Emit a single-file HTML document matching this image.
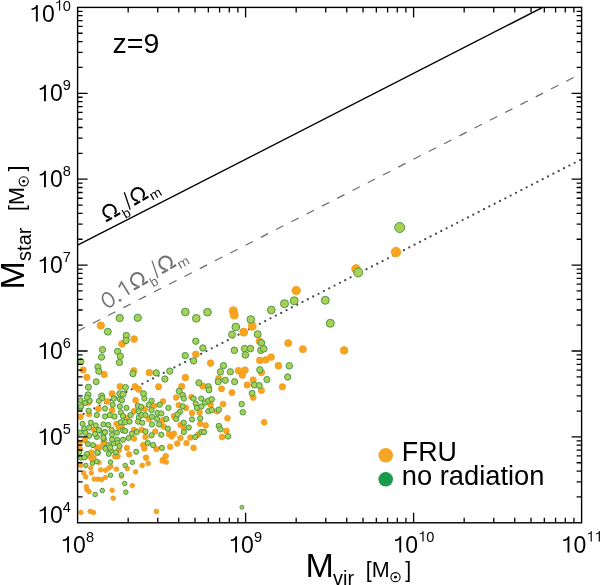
<!DOCTYPE html>
<html><head><meta charset="utf-8"><style>
html,body{margin:0;padding:0;background:#fff;width:600px;height:585px;overflow:hidden}
svg{position:absolute;left:0;top:0;will-change:transform}
text{font-family:"Liberation Sans",sans-serif;fill:#000}
.sr{font-family:"Liberation Serif",serif}
</style></head><body>
<svg width="600" height="585" viewBox="0 0 600 585">
<path d="M77.60 245.17L542.62 7.40" stroke="#000" stroke-width="1.4" fill="none"/>
<path d="M77.60 331.07L581.60 73.37" stroke="#6a6a6a" stroke-width="1.2" fill="none" stroke-dasharray="8.2 8.95"/>
<path d="M77.60 416.97L581.60 159.27" stroke="#4a4a4a" stroke-width="2.3" fill="none" stroke-dasharray="0 5.994" stroke-dashoffset="-0.856" stroke-linecap="round"/>
<defs><clipPath id="pc"><rect x="77.6" y="7.4" width="504.0" height="515.4"/></clipPath></defs><g clip-path="url(#pc)"><g fill="#f8a51c" stroke="#ec9a2a" stroke-width="0.7"><circle cx="396.0" cy="252.1" r="4.85"/><circle cx="356.1" cy="269.0" r="4.45"/><circle cx="296.2" cy="290.5" r="4.30"/><circle cx="233.3" cy="310.8" r="4.05"/><circle cx="234.2" cy="315.0" r="4.05"/><circle cx="252.2" cy="326.3" r="4.05"/><circle cx="243.7" cy="332.0" r="3.95"/><circle cx="100.8" cy="325.5" r="3.70"/><circle cx="122.0" cy="343.9" r="3.45"/><circle cx="134.1" cy="339.1" r="3.45"/><circle cx="83.1" cy="370.0" r="3.20"/><circle cx="104.2" cy="374.4" r="3.20"/><circle cx="86.9" cy="377.3" r="3.20"/><circle cx="133.8" cy="370.7" r="3.20"/><circle cx="120.1" cy="386.6" r="3.20"/><circle cx="135.1" cy="386.6" r="3.20"/><circle cx="138.6" cy="389.3" r="3.20"/><circle cx="112.1" cy="393.7" r="3.20"/><circle cx="195.8" cy="354.3" r="3.40"/><circle cx="149.3" cy="372.6" r="3.35"/><circle cx="185.4" cy="377.6" r="3.35"/><circle cx="158.6" cy="386.8" r="3.20"/><circle cx="202.9" cy="386.1" r="3.20"/><circle cx="181.6" cy="386.4" r="3.20"/><circle cx="243.7" cy="332.5" r="3.70"/><circle cx="259.5" cy="341.3" r="3.50"/><circle cx="210.6" cy="363.1" r="3.35"/><circle cx="259.8" cy="360.4" r="3.35"/><circle cx="265.8" cy="359.8" r="3.35"/><circle cx="238.5" cy="370.7" r="3.35"/><circle cx="245.0" cy="370.2" r="3.35"/><circle cx="242.3" cy="375.1" r="3.35"/><circle cx="261.4" cy="372.4" r="3.35"/><circle cx="218.8" cy="378.4" r="3.20"/><circle cx="253.2" cy="380.0" r="3.20"/><circle cx="247.2" cy="385.0" r="3.20"/><circle cx="261.4" cy="390.4" r="3.20"/><circle cx="221.5" cy="388.8" r="3.10"/><circle cx="231.9" cy="392.6" r="3.10"/><circle cx="288.2" cy="343.1" r="3.55"/><circle cx="302.9" cy="349.2" r="3.55"/><circle cx="344.1" cy="350.4" r="3.80"/><circle cx="271.1" cy="357.1" r="3.45"/><circle cx="278.4" cy="365.8" r="3.45"/><circle cx="282.4" cy="386.8" r="3.20"/><circle cx="107.2" cy="401.4" r="2.95"/><circle cx="135.6" cy="400.3" r="2.95"/><circle cx="98.4" cy="409.0" r="2.95"/><circle cx="112.1" cy="410.1" r="2.95"/><circle cx="80.4" cy="416.7" r="2.95"/><circle cx="134.0" cy="411.2" r="2.95"/><circle cx="116.5" cy="423.8" r="2.85"/><circle cx="118.7" cy="427.1" r="2.85"/><circle cx="134.0" cy="429.8" r="2.85"/><circle cx="84.8" cy="440.2" r="2.80"/><circle cx="103.4" cy="443.0" r="2.80"/><circle cx="96.8" cy="447.3" r="2.80"/><circle cx="126.9" cy="447.9" r="2.80"/><circle cx="134.0" cy="438.6" r="2.80"/><circle cx="129.1" cy="454.4" r="2.80"/><circle cx="117.6" cy="456.1" r="2.80"/><circle cx="90.2" cy="453.9" r="2.80"/><circle cx="93.5" cy="457.7" r="2.80"/><circle cx="89.1" cy="414.0" r="2.85"/><circle cx="88.6" cy="402.5" r="2.85"/><circle cx="126.9" cy="417.8" r="2.85"/><circle cx="121.7" cy="426.5" r="2.85"/><circle cx="163.0" cy="401.4" r="2.85"/><circle cx="154.2" cy="405.8" r="2.85"/><circle cx="178.8" cy="405.2" r="2.85"/><circle cx="186.0" cy="407.9" r="2.85"/><circle cx="192.0" cy="412.9" r="2.85"/><circle cx="199.6" cy="412.3" r="2.85"/><circle cx="173.9" cy="416.1" r="2.85"/><circle cx="200.2" cy="423.8" r="2.85"/><circle cx="163.0" cy="420.0" r="2.85"/><circle cx="163.5" cy="426.5" r="2.85"/><circle cx="180.5" cy="424.9" r="2.85"/><circle cx="183.8" cy="427.6" r="2.85"/><circle cx="141.6" cy="429.8" r="2.85"/><circle cx="155.3" cy="431.5" r="2.85"/><circle cx="169.0" cy="434.2" r="2.85"/><circle cx="173.9" cy="433.7" r="2.85"/><circle cx="171.7" cy="436.4" r="2.85"/><circle cx="145.5" cy="437.0" r="2.85"/><circle cx="180.5" cy="438.0" r="2.85"/><circle cx="190.3" cy="437.5" r="2.85"/><circle cx="198.0" cy="434.7" r="2.85"/><circle cx="177.2" cy="443.5" r="2.85"/><circle cx="186.5" cy="443.0" r="2.85"/><circle cx="170.1" cy="446.8" r="2.85"/><circle cx="143.3" cy="445.1" r="2.85"/><circle cx="144.4" cy="448.4" r="2.85"/><circle cx="156.4" cy="449.0" r="2.85"/><circle cx="193.6" cy="447.9" r="2.85"/><circle cx="146.0" cy="457.7" r="2.85"/><circle cx="165.7" cy="456.1" r="2.85"/><circle cx="163.0" cy="459.9" r="2.85"/><circle cx="191.4" cy="397.0" r="2.85"/><circle cx="176.1" cy="397.5" r="2.85"/><circle cx="223.1" cy="404.1" r="2.95"/><circle cx="210.6" cy="404.7" r="2.95"/><circle cx="217.1" cy="411.2" r="2.95"/><circle cx="227.5" cy="418.3" r="2.95"/><circle cx="205.6" cy="425.4" r="2.95"/><circle cx="226.4" cy="430.9" r="2.95"/><circle cx="222.1" cy="437.0" r="2.95"/><circle cx="264.2" cy="422.2" r="2.95"/><circle cx="253.2" cy="397.5" r="2.95"/><circle cx="80.4" cy="465.4" r="2.35"/><circle cx="99.0" cy="462.6" r="2.35"/><circle cx="90.8" cy="468.1" r="2.35"/><circle cx="100.6" cy="469.8" r="2.35"/><circle cx="105.5" cy="470.3" r="2.35"/><circle cx="108.8" cy="468.1" r="2.35"/><circle cx="111.0" cy="466.5" r="2.35"/><circle cx="116.5" cy="469.2" r="2.35"/><circle cx="127.4" cy="468.7" r="2.35"/><circle cx="135.6" cy="471.9" r="2.35"/><circle cx="83.7" cy="473.0" r="2.35"/><circle cx="85.8" cy="476.9" r="2.35"/><circle cx="91.3" cy="473.0" r="2.35"/><circle cx="94.1" cy="479.1" r="2.35"/><circle cx="97.9" cy="479.1" r="2.35"/><circle cx="101.7" cy="479.6" r="2.35"/><circle cx="105.5" cy="477.4" r="2.35"/><circle cx="121.4" cy="476.3" r="2.35"/><circle cx="86.4" cy="486.7" r="2.35"/><circle cx="86.9" cy="489.4" r="2.35"/><circle cx="89.1" cy="491.6" r="2.35"/><circle cx="112.1" cy="490.3" r="2.35"/><circle cx="132.3" cy="485.6" r="2.35"/><circle cx="113.2" cy="498.2" r="2.35"/><circle cx="80.9" cy="512.4" r="2.35"/><circle cx="90.2" cy="511.3" r="2.35"/><circle cx="93.5" cy="512.4" r="2.35"/><circle cx="142.2" cy="465.4" r="2.45"/><circle cx="148.2" cy="463.4" r="2.45"/><circle cx="162.4" cy="461.0" r="2.45"/><circle cx="166.3" cy="462.1" r="2.45"/><circle cx="156.4" cy="511.5" r="2.45"/><circle cx="94.0" cy="429.5" r="2.85"/><circle cx="79.3" cy="442.7" r="2.85"/><circle cx="99.5" cy="447.6" r="2.85"/><circle cx="104.4" cy="443.2" r="2.85"/><circle cx="91.3" cy="452.5" r="2.85"/><circle cx="89.7" cy="456.4" r="2.85"/><circle cx="79.8" cy="449.2" r="2.85"/><circle cx="92.4" cy="459.6" r="2.85"/><circle cx="118.9" cy="449.8" r="2.85"/><circle cx="115.1" cy="456.4" r="2.85"/><circle cx="144.9" cy="409.0" r="2.85"/><circle cx="148.8" cy="418.9" r="2.85"/></g>
<g fill="#abcf55" stroke="#47984a" stroke-width="1.0"><circle cx="399.7" cy="227.5" r="5.00"/><circle cx="358.2" cy="272.5" r="4.50"/><circle cx="294.2" cy="300.8" r="4.00"/><circle cx="284.5" cy="303.7" r="4.00"/><circle cx="325.3" cy="300.3" r="4.00"/><circle cx="330.3" cy="323.3" r="4.00"/><circle cx="185.3" cy="312.0" r="3.85"/><circle cx="196.3" cy="318.3" r="3.85"/><circle cx="207.5" cy="312.2" r="3.85"/><circle cx="250.8" cy="319.5" r="3.85"/><circle cx="235.8" cy="327.0" r="3.85"/><circle cx="271.3" cy="310.0" r="3.85"/><circle cx="119.7" cy="318.0" r="3.65"/><circle cx="137.7" cy="317.8" r="3.65"/><circle cx="107.8" cy="331.7" r="3.50"/><circle cx="126.3" cy="335.6" r="3.25"/><circle cx="126.1" cy="340.5" r="3.25"/><circle cx="102.5" cy="349.6" r="3.15"/><circle cx="101.5" cy="357.1" r="3.15"/><circle cx="117.6" cy="351.4" r="3.15"/><circle cx="120.3" cy="356.2" r="3.15"/><circle cx="119.4" cy="362.5" r="3.15"/><circle cx="80.9" cy="361.7" r="3.15"/><circle cx="97.9" cy="366.9" r="3.10"/><circle cx="98.8" cy="371.3" r="3.10"/><circle cx="132.9" cy="373.7" r="3.10"/><circle cx="96.2" cy="381.7" r="3.00"/><circle cx="88.4" cy="387.2" r="3.00"/><circle cx="125.5" cy="387.4" r="3.00"/><circle cx="88.0" cy="394.8" r="3.00"/><circle cx="101.7" cy="395.9" r="3.00"/><circle cx="119.8" cy="393.7" r="3.00"/><circle cx="123.0" cy="394.3" r="3.00"/><circle cx="195.8" cy="341.2" r="3.20"/><circle cx="202.9" cy="348.0" r="3.20"/><circle cx="185.2" cy="355.6" r="3.20"/><circle cx="193.6" cy="360.9" r="3.20"/><circle cx="169.8" cy="371.1" r="3.15"/><circle cx="156.2" cy="372.9" r="3.15"/><circle cx="164.9" cy="379.0" r="3.15"/><circle cx="198.9" cy="382.8" r="3.10"/><circle cx="179.2" cy="391.2" r="3.00"/><circle cx="182.7" cy="395.4" r="3.00"/><circle cx="143.5" cy="393.7" r="3.00"/><circle cx="232.0" cy="334.6" r="3.50"/><circle cx="257.7" cy="334.2" r="3.50"/><circle cx="261.4" cy="342.8" r="3.30"/><circle cx="260.9" cy="350.3" r="3.30"/><circle cx="263.8" cy="348.8" r="3.30"/><circle cx="234.4" cy="350.3" r="3.30"/><circle cx="244.6" cy="348.6" r="3.30"/><circle cx="250.4" cy="348.6" r="3.30"/><circle cx="245.4" cy="354.9" r="3.30"/><circle cx="223.5" cy="365.6" r="3.15"/><circle cx="220.4" cy="371.8" r="3.15"/><circle cx="230.3" cy="371.8" r="3.15"/><circle cx="259.8" cy="369.7" r="3.15"/><circle cx="218.2" cy="381.7" r="3.10"/><circle cx="225.3" cy="380.3" r="3.10"/><circle cx="234.6" cy="381.7" r="3.10"/><circle cx="266.9" cy="379.5" r="3.10"/><circle cx="254.3" cy="385.0" r="3.00"/><circle cx="259.3" cy="385.5" r="3.00"/><circle cx="208.4" cy="386.6" r="3.00"/><circle cx="208.9" cy="389.9" r="3.00"/><circle cx="252.1" cy="393.2" r="2.90"/><circle cx="289.3" cy="365.8" r="3.25"/><circle cx="287.7" cy="377.0" r="3.15"/><circle cx="80.4" cy="400.3" r="2.65"/><circle cx="85.3" cy="403.0" r="2.65"/><circle cx="89.7" cy="400.8" r="2.65"/><circle cx="99.0" cy="400.8" r="2.65"/><circle cx="102.3" cy="398.1" r="2.65"/><circle cx="112.7" cy="404.7" r="2.65"/><circle cx="113.7" cy="398.6" r="2.65"/><circle cx="119.8" cy="399.2" r="2.65"/><circle cx="122.0" cy="400.3" r="2.65"/><circle cx="119.8" cy="406.3" r="2.65"/><circle cx="126.5" cy="407.9" r="2.65"/><circle cx="137.8" cy="405.8" r="2.65"/><circle cx="80.4" cy="407.9" r="2.65"/><circle cx="88.6" cy="410.7" r="2.65"/><circle cx="105.0" cy="408.5" r="2.65"/><circle cx="96.8" cy="415.1" r="2.65"/><circle cx="105.0" cy="416.5" r="2.65"/><circle cx="109.9" cy="415.1" r="2.65"/><circle cx="114.5" cy="416.5" r="2.65"/><circle cx="120.9" cy="412.3" r="2.65"/><circle cx="123.0" cy="416.1" r="2.65"/><circle cx="130.7" cy="415.1" r="2.65"/><circle cx="138.9" cy="417.2" r="2.65"/><circle cx="120.9" cy="422.2" r="2.65"/><circle cx="125.2" cy="422.2" r="2.65"/><circle cx="129.6" cy="421.6" r="2.65"/><circle cx="82.6" cy="423.8" r="2.60"/><circle cx="90.8" cy="422.7" r="2.60"/><circle cx="95.7" cy="425.4" r="2.60"/><circle cx="103.4" cy="424.4" r="2.60"/><circle cx="108.3" cy="424.9" r="2.60"/><circle cx="84.2" cy="428.7" r="2.60"/><circle cx="89.1" cy="427.6" r="2.60"/><circle cx="99.5" cy="430.4" r="2.60"/><circle cx="105.0" cy="432.0" r="2.60"/><circle cx="111.6" cy="429.8" r="2.60"/><circle cx="117.0" cy="432.6" r="2.60"/><circle cx="123.0" cy="430.4" r="2.60"/><circle cx="125.2" cy="430.9" r="2.60"/><circle cx="131.8" cy="433.7" r="2.60"/><circle cx="136.7" cy="432.0" r="2.60"/><circle cx="79.8" cy="432.6" r="2.60"/><circle cx="89.1" cy="435.8" r="2.60"/><circle cx="96.8" cy="436.9" r="2.60"/><circle cx="103.4" cy="434.7" r="2.60"/><circle cx="103.9" cy="439.1" r="2.60"/><circle cx="112.1" cy="434.7" r="2.60"/><circle cx="117.0" cy="439.7" r="2.60"/><circle cx="123.0" cy="439.7" r="2.60"/><circle cx="128.5" cy="438.0" r="2.60"/><circle cx="88.0" cy="444.0" r="2.55"/><circle cx="93.0" cy="445.1" r="2.55"/><circle cx="105.5" cy="447.9" r="2.55"/><circle cx="108.8" cy="445.1" r="2.55"/><circle cx="113.7" cy="443.5" r="2.55"/><circle cx="117.6" cy="443.0" r="2.55"/><circle cx="111.0" cy="450.6" r="2.55"/><circle cx="115.9" cy="452.3" r="2.55"/><circle cx="108.8" cy="453.9" r="2.55"/><circle cx="97.9" cy="452.8" r="2.55"/><circle cx="86.9" cy="453.9" r="2.55"/><circle cx="80.9" cy="457.7" r="2.55"/><circle cx="136.2" cy="451.7" r="2.55"/><circle cx="86.9" cy="397.5" r="2.65"/><circle cx="80.9" cy="406.3" r="2.65"/><circle cx="138.6" cy="411.2" r="2.65"/><circle cx="138.1" cy="421.6" r="2.65"/><circle cx="144.4" cy="398.6" r="2.65"/><circle cx="151.5" cy="400.8" r="2.65"/><circle cx="148.8" cy="404.7" r="2.65"/><circle cx="159.7" cy="404.7" r="2.65"/><circle cx="141.1" cy="406.8" r="2.65"/><circle cx="151.5" cy="410.1" r="2.65"/><circle cx="157.5" cy="412.9" r="2.65"/><circle cx="161.3" cy="413.4" r="2.65"/><circle cx="168.4" cy="407.9" r="2.65"/><circle cx="141.6" cy="415.1" r="2.65"/><circle cx="145.5" cy="415.1" r="2.65"/><circle cx="152.0" cy="416.7" r="2.65"/><circle cx="157.0" cy="418.9" r="2.65"/><circle cx="166.3" cy="418.9" r="2.65"/><circle cx="142.2" cy="422.7" r="2.65"/><circle cx="152.0" cy="424.4" r="2.65"/><circle cx="159.1" cy="424.4" r="2.65"/><circle cx="167.9" cy="428.7" r="2.65"/><circle cx="145.5" cy="431.5" r="2.65"/><circle cx="151.5" cy="435.3" r="2.65"/><circle cx="161.3" cy="434.7" r="2.65"/><circle cx="147.7" cy="443.0" r="2.65"/><circle cx="153.1" cy="445.1" r="2.65"/><circle cx="161.9" cy="447.9" r="2.65"/><circle cx="182.7" cy="406.3" r="2.65"/><circle cx="179.9" cy="411.8" r="2.65"/><circle cx="176.1" cy="418.9" r="2.65"/><circle cx="183.8" cy="422.7" r="2.65"/><circle cx="188.7" cy="427.6" r="2.65"/><circle cx="183.8" cy="432.0" r="2.65"/><circle cx="192.0" cy="419.4" r="2.65"/><circle cx="200.2" cy="418.3" r="2.65"/><circle cx="195.8" cy="403.6" r="2.65"/><circle cx="196.9" cy="407.9" r="2.65"/><circle cx="193.6" cy="398.6" r="2.65"/><circle cx="201.3" cy="398.6" r="2.65"/><circle cx="183.8" cy="398.6" r="2.65"/><circle cx="201.3" cy="432.0" r="2.65"/><circle cx="195.3" cy="437.0" r="2.65"/><circle cx="205.1" cy="402.5" r="2.75"/><circle cx="208.4" cy="400.8" r="2.75"/><circle cx="211.7" cy="399.2" r="2.75"/><circle cx="208.4" cy="411.2" r="2.75"/><circle cx="211.7" cy="410.1" r="2.75"/><circle cx="218.8" cy="409.6" r="2.75"/><circle cx="241.7" cy="404.1" r="2.75"/><circle cx="242.8" cy="412.3" r="2.75"/><circle cx="218.8" cy="426.0" r="2.75"/><circle cx="220.4" cy="429.3" r="2.75"/><circle cx="228.1" cy="436.4" r="2.75"/><circle cx="204.0" cy="432.0" r="2.65"/><circle cx="85.8" cy="465.4" r="2.25"/><circle cx="92.4" cy="463.2" r="2.25"/><circle cx="96.8" cy="461.5" r="2.25"/><circle cx="110.5" cy="462.1" r="2.25"/><circle cx="125.2" cy="465.4" r="2.25"/><circle cx="132.3" cy="462.3" r="2.25"/><circle cx="110.5" cy="475.2" r="2.25"/><circle cx="121.4" cy="474.7" r="2.25"/><circle cx="124.7" cy="483.4" r="2.25"/><circle cx="102.3" cy="490.5" r="2.25"/><circle cx="95.1" cy="494.4" r="2.25"/><circle cx="125.8" cy="492.2" r="2.25"/><circle cx="241.9" cy="507.3" r="1.90"/><circle cx="85.3" cy="432.8" r="2.65"/><circle cx="95.1" cy="433.9" r="2.65"/><circle cx="99.0" cy="430.1" r="2.65"/><circle cx="105.0" cy="432.3" r="2.65"/><circle cx="103.4" cy="437.8" r="2.65"/><circle cx="105.5" cy="448.7" r="2.65"/><circle cx="97.3" cy="452.5" r="2.65"/><circle cx="79.3" cy="452.0" r="2.65"/><circle cx="84.2" cy="457.4" r="2.65"/><circle cx="110.2" cy="447.5" r="2.65"/><circle cx="119.5" cy="446.0" r="2.65"/><circle cx="112.0" cy="439.5" r="2.65"/><circle cx="177.5" cy="414.5" r="2.65"/><circle cx="201.5" cy="406.5" r="2.65"/></g></g>
<path d="M128.17 522.8v-5M128.17 7.4v5M157.76 522.8v-5M157.76 7.4v5M178.75 522.8v-5M178.75 7.4v5M195.03 522.8v-5M195.03 7.4v5M208.33 522.8v-5M208.33 7.4v5M219.58 522.8v-5M219.58 7.4v5M229.32 522.8v-5M229.32 7.4v5M237.91 522.8v-5M237.91 7.4v5M245.60 522.8v-10M245.60 7.4v10M296.17 522.8v-5M296.17 7.4v5M325.76 522.8v-5M325.76 7.4v5M346.75 522.8v-5M346.75 7.4v5M363.03 522.8v-5M363.03 7.4v5M376.33 522.8v-5M376.33 7.4v5M387.58 522.8v-5M387.58 7.4v5M397.32 522.8v-5M397.32 7.4v5M405.91 522.8v-5M405.91 7.4v5M413.60 522.8v-10M413.60 7.4v10M464.17 522.8v-5M464.17 7.4v5M493.76 522.8v-5M493.76 7.4v5M514.75 522.8v-5M514.75 7.4v5M531.03 522.8v-5M531.03 7.4v5M544.33 522.8v-5M544.33 7.4v5M555.58 522.8v-5M555.58 7.4v5M565.32 522.8v-5M565.32 7.4v5M573.91 522.8v-5M573.91 7.4v5M77.6 496.94h5M581.6 496.94h-5M77.6 481.82h5M581.6 481.82h-5M77.6 471.08h5M581.6 471.08h-5M77.6 462.76h5M581.6 462.76h-5M77.6 455.96h5M581.6 455.96h-5M77.6 450.21h5M581.6 450.21h-5M77.6 445.22h5M581.6 445.22h-5M77.6 440.83h5M581.6 440.83h-5M77.6 436.90h10M581.6 436.90h-10M77.6 411.04h5M581.6 411.04h-5M77.6 395.92h5M581.6 395.92h-5M77.6 385.18h5M581.6 385.18h-5M77.6 376.86h5M581.6 376.86h-5M77.6 370.06h5M581.6 370.06h-5M77.6 364.31h5M581.6 364.31h-5M77.6 359.32h5M581.6 359.32h-5M77.6 354.93h5M581.6 354.93h-5M77.6 351.00h10M581.6 351.00h-10M77.6 325.14h5M581.6 325.14h-5M77.6 310.02h5M581.6 310.02h-5M77.6 299.28h5M581.6 299.28h-5M77.6 290.96h5M581.6 290.96h-5M77.6 284.16h5M581.6 284.16h-5M77.6 278.41h5M581.6 278.41h-5M77.6 273.42h5M581.6 273.42h-5M77.6 269.03h5M581.6 269.03h-5M77.6 265.10h10M581.6 265.10h-10M77.6 239.24h5M581.6 239.24h-5M77.6 224.12h5M581.6 224.12h-5M77.6 213.38h5M581.6 213.38h-5M77.6 205.06h5M581.6 205.06h-5M77.6 198.26h5M581.6 198.26h-5M77.6 192.51h5M581.6 192.51h-5M77.6 187.52h5M581.6 187.52h-5M77.6 183.13h5M581.6 183.13h-5M77.6 179.20h10M581.6 179.20h-10M77.6 153.34h5M581.6 153.34h-5M77.6 138.22h5M581.6 138.22h-5M77.6 127.48h5M581.6 127.48h-5M77.6 119.16h5M581.6 119.16h-5M77.6 112.36h5M581.6 112.36h-5M77.6 106.61h5M581.6 106.61h-5M77.6 101.62h5M581.6 101.62h-5M77.6 97.23h5M581.6 97.23h-5M77.6 93.30h10M581.6 93.30h-10M77.6 67.44h5M581.6 67.44h-5M77.6 52.32h5M581.6 52.32h-5M77.6 41.58h5M581.6 41.58h-5M77.6 33.26h5M581.6 33.26h-5M77.6 26.46h5M581.6 26.46h-5M77.6 20.71h5M581.6 20.71h-5M77.6 15.72h5M581.6 15.72h-5M77.6 11.33h5M581.6 11.33h-5" stroke="#000" stroke-width="1.3" fill="none"/>
<rect x="77.6" y="7.4" width="504.0" height="515.4" fill="none" stroke="#000" stroke-width="1.4"/>
<g stroke="none"><path transform="translate(29.09,21.50) scale(23)" d="M0.296,0H0.378V-0.716H0.316C0.300,-0.640 0.230,-0.578 0.108,-0.568V-0.505C0.190,-0.505 0.250,-0.520 0.296,-0.560Z"/><text x="41.88" y="21.50" font-size="23">0</text><path transform="translate(54.66,10.50) scale(14.6)" d="M0.296,0H0.378V-0.716H0.316C0.300,-0.640 0.230,-0.578 0.108,-0.568V-0.505C0.190,-0.505 0.250,-0.520 0.296,-0.560Z"/><text x="62.78" y="10.50" font-size="14.6">0</text><path transform="translate(37.21,101.30) scale(23)" d="M0.296,0H0.378V-0.716H0.316C0.300,-0.640 0.230,-0.578 0.108,-0.568V-0.505C0.190,-0.505 0.250,-0.520 0.296,-0.560Z"/><text x="49.99" y="101.30" font-size="23">0</text><text x="62.78" y="90.30" font-size="14.6">9</text><path transform="translate(37.21,187.20) scale(23)" d="M0.296,0H0.378V-0.716H0.316C0.300,-0.640 0.230,-0.578 0.108,-0.568V-0.505C0.190,-0.505 0.250,-0.520 0.296,-0.560Z"/><text x="49.99" y="187.20" font-size="23">0</text><text x="62.78" y="176.20" font-size="14.6">8</text><path transform="translate(37.21,273.10) scale(23)" d="M0.296,0H0.378V-0.716H0.316C0.300,-0.640 0.230,-0.578 0.108,-0.568V-0.505C0.190,-0.505 0.250,-0.520 0.296,-0.560Z"/><text x="49.99" y="273.10" font-size="23">0</text><text x="62.78" y="262.10" font-size="14.6">7</text><path transform="translate(37.21,359.00) scale(23)" d="M0.296,0H0.378V-0.716H0.316C0.300,-0.640 0.230,-0.578 0.108,-0.568V-0.505C0.190,-0.505 0.250,-0.520 0.296,-0.560Z"/><text x="49.99" y="359.00" font-size="23">0</text><text x="62.78" y="348.00" font-size="14.6">6</text><path transform="translate(37.21,444.90) scale(23)" d="M0.296,0H0.378V-0.716H0.316C0.300,-0.640 0.230,-0.578 0.108,-0.568V-0.505C0.190,-0.505 0.250,-0.520 0.296,-0.560Z"/><text x="49.99" y="444.90" font-size="23">0</text><text x="62.78" y="433.90" font-size="14.6">5</text><path transform="translate(37.21,523.00) scale(23)" d="M0.296,0H0.378V-0.716H0.316C0.300,-0.640 0.230,-0.578 0.108,-0.568V-0.505C0.190,-0.505 0.250,-0.520 0.296,-0.560Z"/><text x="49.99" y="523.00" font-size="23">0</text><text x="62.78" y="512.00" font-size="14.6">4</text><path transform="translate(60.30,552.60) scale(23)" d="M0.296,0H0.378V-0.716H0.316C0.300,-0.640 0.230,-0.578 0.108,-0.568V-0.505C0.190,-0.505 0.250,-0.520 0.296,-0.560Z"/><text x="73.09" y="552.60" font-size="23">0</text><text x="85.88" y="541.60" font-size="14.6">8</text><path transform="translate(228.30,552.60) scale(23)" d="M0.296,0H0.378V-0.716H0.316C0.300,-0.640 0.230,-0.578 0.108,-0.568V-0.505C0.190,-0.505 0.250,-0.520 0.296,-0.560Z"/><text x="241.09" y="552.60" font-size="23">0</text><text x="253.88" y="541.60" font-size="14.6">9</text><path transform="translate(392.50,552.60) scale(23)" d="M0.296,0H0.378V-0.716H0.316C0.300,-0.640 0.230,-0.578 0.108,-0.568V-0.505C0.190,-0.505 0.250,-0.520 0.296,-0.560Z"/><text x="405.29" y="552.60" font-size="23">0</text><path transform="translate(418.08,541.60) scale(14.6)" d="M0.296,0H0.378V-0.716H0.316C0.300,-0.640 0.230,-0.578 0.108,-0.568V-0.505C0.190,-0.505 0.250,-0.520 0.296,-0.560Z"/><text x="426.19" y="541.60" font-size="14.6">0</text><path transform="translate(560.70,552.60) scale(23)" d="M0.296,0H0.378V-0.716H0.316C0.300,-0.640 0.230,-0.578 0.108,-0.568V-0.505C0.190,-0.505 0.250,-0.520 0.296,-0.560Z"/><text x="573.49" y="552.60" font-size="23">0</text><path transform="translate(586.28,541.60) scale(14.6)" d="M0.296,0H0.378V-0.716H0.316C0.300,-0.640 0.230,-0.578 0.108,-0.568V-0.505C0.190,-0.505 0.250,-0.520 0.296,-0.560Z"/><path transform="translate(594.39,541.60) scale(14.6)" d="M0.296,0H0.378V-0.716H0.316C0.300,-0.640 0.230,-0.578 0.108,-0.568V-0.505C0.190,-0.505 0.250,-0.520 0.296,-0.560Z"/></g>
<text x="112.6" y="52.6" font-size="28.5">z=9</text>
<g transform="translate(305.4,577)">
<text x="0" y="0" font-size="34">M</text>
<text x="27.6" y="7.5" font-size="20">vir</text>
<g transform="translate(61.6,0)"><text x="-1.3" y="0" font-size="21.5">[M</text><circle cx="28.5" cy="0.2" r="4.6" fill="none" stroke="#000" stroke-width="1.1"/><circle cx="28.5" cy="0.2" r="1.4"/><text x="38.2" y="0" font-size="21.5">]</text></g>
</g>
<g transform="translate(23.5,289.5) rotate(-90)">
<text x="0" y="0" font-size="34">M</text>
<text x="28.6" y="7.5" font-size="20">star</text>
<g transform="translate(79.7,0)"><text x="-1.3" y="0" font-size="21.5">[M</text><circle cx="28.5" cy="0.2" r="4.6" fill="none" stroke="#000" stroke-width="1.1"/><circle cx="28.5" cy="0.2" r="1.4"/><text x="38.2" y="0" font-size="21.5">]</text></g>
</g>
<g transform="translate(106.10,221.50) rotate(-30)" fill="none" stroke="#000"><path d="M5.29,-1.84A6.3,6.3 0 1 1 11.21,-1.84" stroke-width="2.0"/><path d="M0.1,-0.2H6.9M9.6,-0.2H16.4" stroke-width="2.1"/></g><g transform="translate(126.20,213.00) rotate(-30) scale(1.0,1)"><text x="-3.76" y="4.88" font-size="13.2" style="fill:#000">b</text></g><path d="M130.20 209.60L124.30 192.20" stroke="#000" stroke-width="1.3"/><g transform="translate(134.32,204.98) rotate(-30)" fill="none" stroke="#000"><path d="M5.29,-1.84A6.3,6.3 0 1 1 11.21,-1.84" stroke-width="2.0"/><path d="M0.1,-0.2H6.9M9.6,-0.2H16.4" stroke-width="2.1"/></g><g transform="translate(155.90,194.70) rotate(-30) scale(1.1,1)"><text x="-5.48" y="3.63" font-size="13.2" style="fill:#000">m</text></g>
<ellipse cx="108.15" cy="299.75" rx="5.0" ry="7.4" transform="rotate(-30 108.15 299.75)" fill="none" stroke="#707070" stroke-width="1.6"/><circle cx="120.0" cy="300.3" r="1.4" fill="#707070"/><path d="M129.2 294.5L121.5 282.1L118.9 287.4" fill="none" stroke="#707070" stroke-width="1.6" stroke-linejoin="miter"/><g transform="translate(133.80,289.90) rotate(-30)" fill="none" stroke="#707070"><path d="M5.29,-1.84A6.3,6.3 0 1 1 11.21,-1.84" stroke-width="2.0"/><path d="M0.1,-0.2H6.9M9.6,-0.2H16.4" stroke-width="2.1"/></g><g transform="translate(153.90,281.40) rotate(-30) scale(1.0,1)"><text x="-3.76" y="4.88" font-size="13.2" style="fill:#707070">b</text></g><path d="M157.90 278.00L152.00 260.60" stroke="#707070" stroke-width="1.3"/><g transform="translate(162.02,273.38) rotate(-30)" fill="none" stroke="#707070"><path d="M5.29,-1.84A6.3,6.3 0 1 1 11.21,-1.84" stroke-width="2.0"/><path d="M0.1,-0.2H6.9M9.6,-0.2H16.4" stroke-width="2.1"/></g><g transform="translate(183.60,263.10) rotate(-30) scale(1.1,1)"><text x="-5.48" y="3.63" font-size="13.2" style="fill:#707070">m</text></g>
<circle cx="385.7" cy="455.3" r="7.3" fill="#f6a623"/>
<circle cx="385.7" cy="479.3" r="7.3" fill="#1a9a4a"/>
<text x="401.8" y="461.3" font-size="26.8">FRU</text>
<text x="401.8" y="485.2" font-size="27.3">no radiation</text>
</svg>
</body></html>
